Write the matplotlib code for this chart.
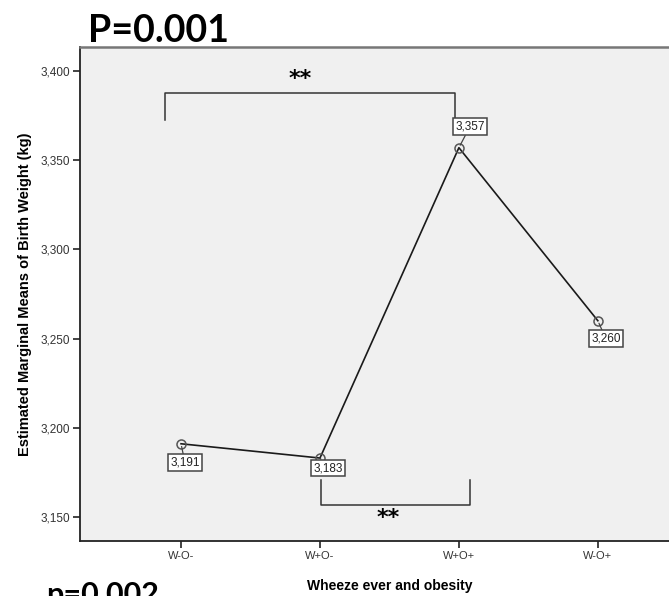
import matplotlib
matplotlib.use('Agg')
import matplotlib.pyplot as plt

# data
groups = ['W-O-', 'W+O-', 'W+O+', 'W-O+']
means = [3191, 3183, 3357, 3260]
mean_labels = ['3,191', '3,183', '3,357', '3,260']
y_ticks = [3150, 3200, 3250, 3300, 3350, 3400]
y_tick_labels = ['3,150', '3,200', '3,250', '3,300', '3,350', '3,400']

plt.rcParams['font.family'] = ['Liberation Sans', 'DejaVu Sans']

fig = plt.figure(figsize=(6.69, 5.96), dpi=100)
ax = fig.add_axes([0.1196, 0.0923, 0.925, 0.829])
ax.set_facecolor('#f0f0f0')

x = list(range(len(groups)))
ax.plot(x, means, color='#1a1a1a', lw=1.2, zorder=3)
ax.plot(x, means, 'o', ms=6.5, mfc='none', mec='#555555', mew=1.1, zorder=4)

# value labels with leader lines (offsets in pixels)
offsets = [(4, -19), (8, -10), (11, 21), (8, -18)]
for xi, yi, lab, off in zip(x, means, mean_labels, offsets):
    ax.annotate(lab, (xi, yi), xytext=off, textcoords='offset pixels',
                ha='center', va='center', fontsize=8.5, color='#222222',
                bbox=dict(boxstyle='square,pad=0.2', fc='white', ec='#444444', lw=1.1),
                arrowprops=dict(arrowstyle='-', color='#444444', lw=0.9,
                                shrinkA=0, shrinkB=2), zorder=5)

# significance brackets
ax.plot([-0.115, -0.115, 1.97, 1.97], [3372.5, 3387.7, 3387.7, 3373.5],
        color='#333333', lw=1.1, solid_joinstyle='round', zorder=2)
ax.text(0.856, 3390, '**', ha='center', va='bottom', fontsize=16,
        fontweight='bold', family='DejaVu Sans')
ax.plot([1.01, 1.01, 2.08, 2.08], [3170.5, 3156.7, 3156.7, 3170.7],
        color='#333333', lw=1.1, solid_joinstyle='round', zorder=2)
ax.text(1.49, 3144, '**', ha='center', va='bottom', fontsize=16,
        fontweight='bold', family='DejaVu Sans')

ax.set_xlim(-0.727, 3.727)
ax.set_ylim(3136.5, 3413.5)
ax.set_xticks(x)
ax.set_xticklabels(groups, fontsize=8, color='#333333')
ax.set_yticks(y_ticks)
ax.set_yticklabels(y_tick_labels, fontsize=8.5, color='#333333')
ax.tick_params(direction='out', length=5, width=1.2, color='#222222', pad=2)

for side in ['left', 'bottom']:
    ax.spines[side].set_color('#222222')
    ax.spines[side].set_linewidth(1.3)
ax.spines['top'].set_color('#777777')
ax.spines['top'].set_linewidth(1.8)
ax.spines['right'].set_visible(False)

ax.set_ylabel('Estimated Marginal Means of Birth Weight (kg)', fontsize=10.5,
              fontweight='bold', labelpad=6)
ax.set_xlabel('Wheeze ever and obesity', fontsize=10, fontweight='bold', labelpad=13)

fig.text(88 / 669, 1 - 48 / 596, 'P=0.001', fontsize=27, fontweight='bold',
         family='Lato', ha='left', va='bottom')
fig.text(46 / 669, 1 - 581 / 596, 'p=0.002', fontsize=22, fontweight='bold',
         family='Lato', ha='left', va='top')

fig.savefig('out.png', dpi=100)
